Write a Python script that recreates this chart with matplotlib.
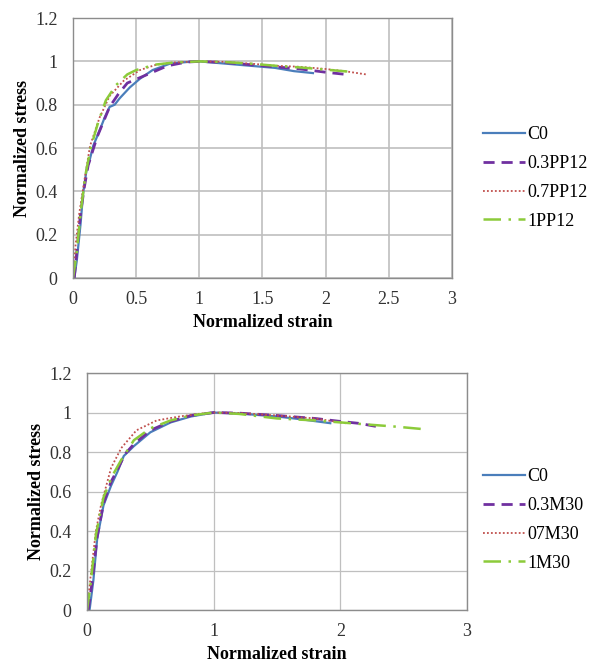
import matplotlib
matplotlib.use('Agg')
import matplotlib.pyplot as plt

plt.rcParams['font.family'] = ['Liberation Serif', 'DejaVu Serif']

# ---------------- top panel (PP12) ----------------
top_c0_x = [0.01, 0.03, 0.06, 0.08, 0.11, 0.13, 0.16, 0.21, 0.25, 0.29, 0.33, 0.37, 0.45, 0.53, 0.63, 0.77, 0.9, 1.0,
            1.2, 1.4, 1.6, 1.75, 1.9]
top_c0_y = [0.0, 0.08, 0.25, 0.39, 0.51, 0.54, 0.61, 0.68, 0.74, 0.79, 0.80, 0.83, 0.88, 0.92, 0.96, 0.99, 0.997, 1.0,
            0.99, 0.98, 0.97, 0.955, 0.946]

top_03_x = [0.01, 0.03, 0.06, 0.09, 0.12, 0.19, 0.24, 0.29, 0.36, 0.43, 0.59, 0.75, 0.9, 1.0,
            1.2, 1.4, 1.6, 1.8, 2.0, 2.16]
top_03_y = [0.0, 0.12, 0.3, 0.42, 0.52, 0.65, 0.72, 0.79, 0.85, 0.9, 0.94, 0.98, 0.997, 1.0,
            0.995, 0.985, 0.975, 0.965, 0.95, 0.94]

top_07_x = [0.0, 0.02, 0.05, 0.09, 0.135, 0.21, 0.29, 0.4, 0.53, 0.66, 0.8, 1.0,
            1.2, 1.4, 1.6, 1.8, 2.0, 2.15, 2.32]
top_07_y = [0.0, 0.15, 0.3, 0.45, 0.61, 0.74, 0.84, 0.91, 0.96, 0.985, 0.995, 1.0,
            0.998, 0.99, 0.98, 0.975, 0.965, 0.955, 0.94]

top_1_x = [0.0, 0.03, 0.06, 0.1, 0.14, 0.2, 0.26, 0.34, 0.43, 0.5, 0.65, 0.8, 1.0,
           1.2, 1.4, 1.6, 1.8, 2.0, 2.2]
top_1_y = [0.0, 0.12, 0.3, 0.48, 0.6, 0.72, 0.82, 0.89, 0.94, 0.96, 0.985, 0.995, 1.0,
           0.997, 0.99, 0.98, 0.972, 0.962, 0.952]

# ---------------- bottom panel (M30) ----------------
bot_c0_x = [0.02, 0.05, 0.08, 0.13, 0.19, 0.24, 0.29, 0.37, 0.5, 0.66, 0.82, 1.0,
            1.2, 1.5, 1.7, 1.92]
bot_c0_y = [0.0, 0.15, 0.36, 0.53, 0.63, 0.7, 0.78, 0.83, 0.9, 0.95, 0.98, 1.0,
            0.995, 0.98, 0.965, 0.946]

bot_03_x = [0.01, 0.04, 0.08, 0.13, 0.19, 0.24, 0.3, 0.37, 0.5, 0.66, 0.82, 1.0,
            1.2, 1.5, 1.8, 2.0, 2.15, 2.28]
bot_03_y = [0.0, 0.14, 0.37, 0.54, 0.65, 0.71, 0.79, 0.84, 0.91, 0.955, 0.985, 1.0,
            0.997, 0.985, 0.97, 0.955, 0.945, 0.93]

bot_07_x = [0.0, 0.03, 0.07, 0.11, 0.19, 0.27, 0.39, 0.55, 0.73, 0.9, 1.0,
            1.2, 1.5, 1.8, 2.05]
bot_07_y = [0.0, 0.18, 0.4, 0.53, 0.72, 0.82, 0.91, 0.96, 0.98, 0.995, 1.0,
            0.998, 0.985, 0.97, 0.945]

bot_1_x = [0.0, 0.03, 0.07, 0.13, 0.2, 0.27, 0.37, 0.5, 0.66, 0.82, 1.0,
           1.2, 1.5, 1.8, 2.0, 2.2, 2.45, 2.67]
bot_1_y = [0.0, 0.14, 0.38, 0.57, 0.68, 0.76, 0.86, 0.92, 0.96, 0.985, 1.0,
           0.993, 0.97, 0.96, 0.95, 0.94, 0.928, 0.915]

top_labels = ['C0', '0.3PP12', '0.7PP12', '1PP12']
bot_labels = ['C0', '0.3M30', '07M30', '1M30']

colors = ['#4A7EBB', '#7030A0', '#C0504D', '#8CCB3A']
styles = [dict(ls='-', lw=1.6),
          dict(ls=(0, (4, 2.5)), lw=2.0),
          dict(ls=(0, (1, 1.2)), lw=1.3),
          dict(ls=(0, (7, 3, 1, 3)), lw=1.8)]

FS = 13

fig = plt.figure(figsize=(5.92, 6.62), dpi=100)
ax1 = fig.add_axes([0.1233, 0.580, 0.640, 0.3927])
ax2 = fig.add_axes([0.147, 0.0785, 0.642, 0.358])


def style_axes(ax, xticks):
    ax.set_xlim(0, 3)
    ax.set_ylim(0, 1.2)
    ax.set_xticks(xticks)
    ax.set_xticklabels([f'{t:g}' for t in xticks])
    ax.set_yticks([0, 0.2, 0.4, 0.6, 0.8, 1.0, 1.2])
    ax.set_yticklabels(['0', '0.2', '0.4', '0.6', '0.8', '1', '1.2'])
    ax.grid(True, color='#BFBFBF', lw=1.2)
    ax.set_axisbelow(True)
    ax.tick_params(length=0, labelsize=FS, colors='#333333')
    ax.tick_params(axis='x', pad=9)
    ax.tick_params(axis='y', pad=11)
    for s in ax.spines.values():
        s.set_color('#8C8C8C')
        s.set_linewidth(1.0)
    ax.set_xlabel('Normalized strain', fontsize=FS, fontweight='bold', labelpad=5)
    ax.set_ylabel('Normalized stress', fontsize=FS, fontweight='bold', labelpad=3)


top_series = [(top_c0_x, top_c0_y), (top_03_x, top_03_y), (top_07_x, top_07_y), (top_1_x, top_1_y)]
bot_series = [(bot_c0_x, bot_c0_y), (bot_03_x, bot_03_y), (bot_07_x, bot_07_y), (bot_1_x, bot_1_y)]

for (x, y), lab, c, st in zip(top_series, top_labels, colors, styles):
    ax1.plot(x, y, color=c, label=lab, **st)
for (x, y), lab, c, st in zip(bot_series, bot_labels, colors, styles):
    ax2.plot(x, y, color=c, label=lab, **st)

style_axes(ax1, [0, 0.5, 1, 1.5, 2, 2.5, 3])
style_axes(ax2, [0, 1, 2, 3])
ax2.grid(True, color='#BFBFBF', lw=0.9)

for ax, yc in [(ax1, 178 / 662), (ax2, 520 / 662)]:
    ax.legend(loc='center left', bbox_to_anchor=(483 / 592, 1 - yc),
              bbox_transform=fig.transFigure, frameon=False, fontsize=FS,
              handlelength=2.3, handletextpad=0.15, labelspacing=0.65,
              borderpad=0, borderaxespad=0)

fig.savefig('out.png', dpi=100)
